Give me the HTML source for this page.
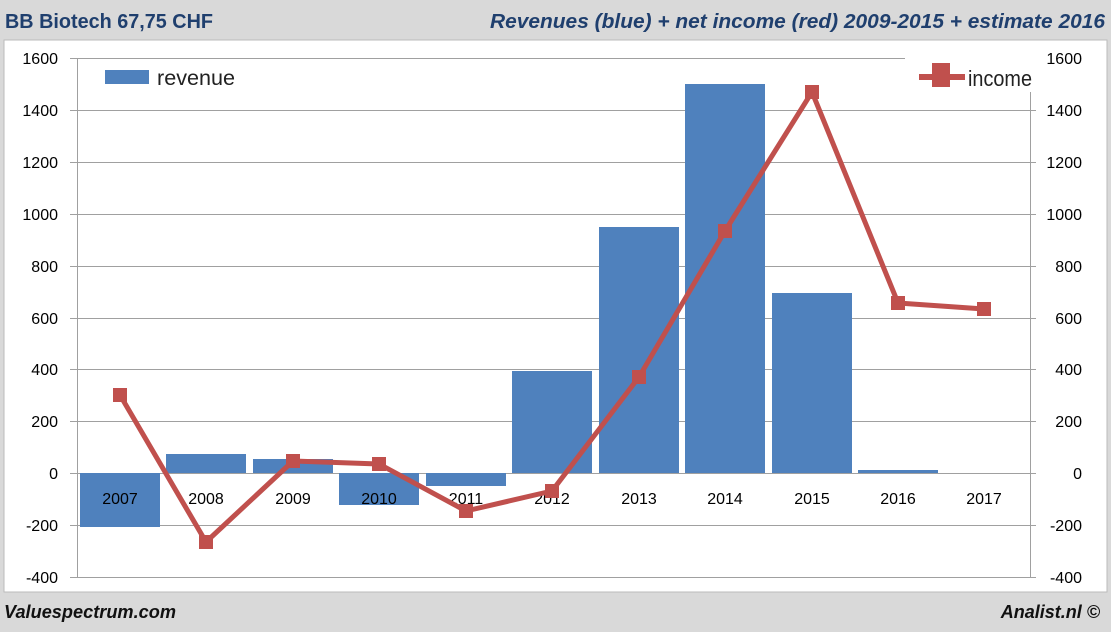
<!DOCTYPE html>
<html><head><style>
body{margin:0;background:#d9d9d9;width:1111px;height:627px;overflow:hidden;font-family:"Liberation Sans",sans-serif}
</style></head><body>
<svg width="1111" height="627" xmlns="http://www.w3.org/2000/svg" font-family="Liberation Sans, sans-serif">
<rect x="0" y="0" width="1111" height="627" fill="#d9d9d9"/>
<rect x="4" y="40" width="1103" height="552" fill="#fff" stroke="#bbb"/>
<text x="5" y="28" font-size="20" font-weight="bold" fill="#1f3f6e" textLength="208" lengthAdjust="spacingAndGlyphs">BB Biotech 67,75 CHF</text>
<text x="490" y="28" font-size="20" font-weight="bold" font-style="italic" fill="#1f3f6e" textLength="615" lengthAdjust="spacingAndGlyphs">Revenues (blue) + net income (red) 2009-2015 + estimate 2016</text>
<text x="4" y="618" font-size="18" font-weight="bold" font-style="italic" fill="#111" textLength="172" lengthAdjust="spacingAndGlyphs">Valuespectrum.com</text>
<text x="1100" y="618" font-size="18" font-weight="bold" font-style="italic" fill="#111" text-anchor="end">Analist.nl ©</text>
<g stroke="#a0a0a0" stroke-width="1">
<line x1="70" y1="58.5" x2="905" y2="58.5"/>
<line x1="70" y1="110.5" x2="1036" y2="110.5"/>
<line x1="70" y1="162.5" x2="1036" y2="162.5"/>
<line x1="70" y1="214.5" x2="1036" y2="214.5"/>
<line x1="70" y1="266.5" x2="1036" y2="266.5"/>
<line x1="70" y1="318.5" x2="1036" y2="318.5"/>
<line x1="70" y1="369.5" x2="1036" y2="369.5"/>
<line x1="70" y1="421.5" x2="1036" y2="421.5"/>
<line x1="70" y1="473.5" x2="1036" y2="473.5"/>
<line x1="70" y1="525.5" x2="1036" y2="525.5"/>
<line x1="70" y1="577.5" x2="1036" y2="577.5"/>
<line x1="77.5" y1="58" x2="77.5" y2="577"/>
<line x1="1030.5" y1="92" x2="1030.5" y2="577"/>
</g>
<g font-size="16" fill="#000" text-anchor="end">
<text x="58" y="64">1600</text><text x="58" y="116">1400</text><text x="58" y="168">1200</text><text x="58" y="220">1000</text><text x="58" y="272">800</text><text x="58" y="324">600</text><text x="58" y="375">400</text><text x="58" y="427">200</text><text x="58" y="479">0</text><text x="58" y="531">-200</text><text x="58" y="583">-400</text>
</g>
<g font-size="16" fill="#000" text-anchor="end">
<text x="1082" y="64">1600</text><text x="1082" y="116">1400</text><text x="1082" y="168">1200</text><text x="1082" y="220">1000</text><text x="1082" y="272">800</text><text x="1082" y="324">600</text><text x="1082" y="375">400</text><text x="1082" y="427">200</text><text x="1082" y="479">0</text><text x="1082" y="531">-200</text><text x="1082" y="583">-400</text>
</g>
<g fill="#4f81bd">
<rect x="80" y="473" width="80" height="54"/>
<rect x="166" y="454" width="80" height="19"/>
<rect x="253" y="459" width="80" height="14"/>
<rect x="339" y="473" width="80" height="32"/>
<rect x="426" y="473" width="80" height="13"/>
<rect x="512" y="371" width="80" height="102"/>
<rect x="599" y="227" width="80" height="246"/>
<rect x="685" y="84" width="80" height="389"/>
<rect x="772" y="293" width="80" height="180"/>
<rect x="858" y="470" width="80" height="3"/>
</g>
<g font-size="16" fill="#000" text-anchor="middle">
<text x="120" y="504">2007</text><text x="206" y="504">2008</text><text x="293" y="504">2009</text><text x="379" y="504">2010</text><text x="466" y="504">2011</text><text x="552" y="504">2012</text><text x="639" y="504">2013</text><text x="725" y="504">2014</text><text x="812" y="504">2015</text><text x="898" y="504">2016</text><text x="984" y="504">2017</text>
</g>
<polyline fill="none" stroke="#c0504d" stroke-width="5" stroke-linejoin="round" points="120,395 206,542 293,461 379,464 466,511 552,491 639,377 725,231 812,92 898,303 984,309"/>
<g fill="#c0504d">
<rect x="113" y="388" width="14" height="14"/><rect x="199" y="535" width="14" height="14"/><rect x="286" y="454" width="14" height="14"/><rect x="372" y="457" width="14" height="14"/><rect x="459" y="504" width="14" height="14"/><rect x="545" y="484" width="14" height="14"/><rect x="632" y="370" width="14" height="14"/><rect x="718" y="224" width="14" height="14"/><rect x="805" y="85" width="14" height="14"/><rect x="891" y="296" width="14" height="14"/><rect x="977" y="302" width="14" height="14"/>
</g>
<rect x="105" y="70" width="44" height="14" fill="#4f81bd"/>
<text x="157" y="85" font-size="21" fill="#222" textLength="78" lengthAdjust="spacingAndGlyphs">revenue</text>
<rect x="919" y="74" width="46" height="6" fill="#c0504d"/>
<rect x="932" y="63" width="18" height="24" fill="#c0504d"/>
<text x="968" y="86" font-size="22" fill="#222" textLength="64" lengthAdjust="spacingAndGlyphs">income</text>
</svg>
</body></html>
